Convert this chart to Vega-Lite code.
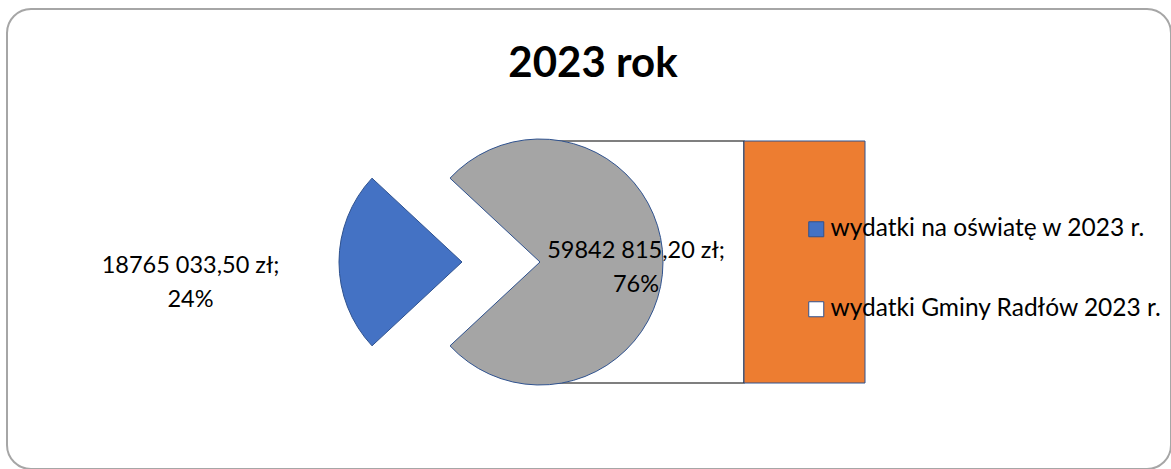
{
  "$schema": "https://vega.github.io/schema/vega-lite/v6.json",
  "width": 1164,
  "height": 460,
  "autosize": {"type": "none"},
  "padding": {"left": 7, "top": 9, "right": 0, "bottom": 0},
  "background": "white",
  "config": {
    "view": {"fill": "white", "stroke": "#A6A6A6", "strokeWidth": 2, "cornerRadius": 24},
    "font": "Lato"
  },
  "title": {
    "text": "2023 rok",
    "fontSize": 42,
    "fontWeight": "bold",
    "font": "Lato",
    "color": "#000000",
    "anchor": "middle",
    "baseline": "alphabetic",
    "offset": -110,
    "dx": 4
  },
  "data": {
    "values": [
      {"kategoria": "wydatki na oświatę w 2023 r.", "kwota": 18765033.5, "etykieta": "18765 033,50 zł;\n24%"},
      {"kategoria": "wydatki Gminy Radłów 2023 r.", "kwota": 59842815.2, "etykieta": "59842 815,20 zł;\n76%"}
    ]
  },
  "layer": [
    {
      "transform": [{"filter": "datum.kategoria === 'wydatki Gminy Radłów 2023 r.'"}],
      "mark": {"type": "bar", "width": 204, "xOffset": 53, "fill": "white", "stroke": "#000000", "strokeWidth": 1.2},
      "encoding": {
        "y": {"field": "kwota", "type": "quantitative", "scale": {"zero": true, "nice": false, "range": [374, 132]}, "axis": null}
      }
    },
    {
      "transform": [{"filter": "datum.kategoria === 'wydatki Gminy Radłów 2023 r.'"}],
      "mark": {"type": "bar", "width": 121, "xOffset": 215.5, "fill": "#ED7D31", "stroke": "#2F528F", "strokeWidth": 1},
      "encoding": {
        "y": {"field": "kwota", "type": "quantitative", "axis": null}
      }
    },
    {
      "mark": {"type": "arc", "radius": 123, "fill": "#A5A5A5", "stroke": "#2F528F", "strokeWidth": 1, "xOffset": -49, "yOffset": 23},
      "encoding": {
        "theta": {"field": "kwota", "type": "quantitative", "stack": true, "scale": {"zero": true, "nice": false, "range": [3.9624, 10.2456]}},
        "order": {"field": "kwota", "sort": "ascending"},
        "opacity": {"condition": {"test": "datum.kategoria === 'wydatki Gminy Radłów 2023 r.'", "value": 1}, "value": 0}
      }
    },
    {
      "mark": {"type": "arc", "radius": 123, "stroke": "#2F528F", "strokeWidth": 1, "xOffset": -127, "yOffset": 23},
      "encoding": {
        "theta": {"field": "kwota", "type": "quantitative", "stack": true},
        "order": {"field": "kwota", "sort": "ascending"},
        "opacity": {"condition": {"test": "datum.kategoria === 'wydatki na oświatę w 2023 r.'", "value": 1}, "value": 0},
        "color": {
          "field": "kategoria",
          "type": "nominal",
          "scale": {"domain": ["wydatki na oświatę w 2023 r.", "wydatki Gminy Radłów 2023 r."], "range": ["#4472C4", "#FFFFFF"]},
          "legend": {
            "orient": "none",
            "legendX": 797,
            "legendY": 208,
            "title": null,
            "symbolType": "square",
            "symbolSize": 225,
            "symbolStrokeColor": "#2F528F",
            "symbolStrokeWidth": 1,
            "symbolOpacity": 1,
            "labelFontSize": 24.5,
            "labelFont": "Lato",
            "labelColor": "#000000",
            "labelOffset": 2,
            "rowPadding": 55,
            "labelLimit": 400
          }
        }
      }
    },
    {
      "transform": [{"filter": "datum.kategoria === 'wydatki Gminy Radłów 2023 r.'"}],
      "mark": {"type": "text", "dx": 47, "dy": 19, "fontSize": 23.5, "lineHeight": 34, "lineBreak": "\n", "align": "center", "baseline": "alphabetic", "color": "#000000"},
      "encoding": {"text": {"field": "etykieta"}}
    },
    {
      "transform": [{"filter": "datum.kategoria === 'wydatki na oświatę w 2023 r.'"}],
      "mark": {"type": "text", "dx": -398.5, "dy": 34, "fontSize": 23.5, "lineHeight": 34, "lineBreak": "\n", "align": "center", "baseline": "alphabetic", "color": "#000000"},
      "encoding": {"text": {"field": "etykieta"}}
    }
  ]
}
